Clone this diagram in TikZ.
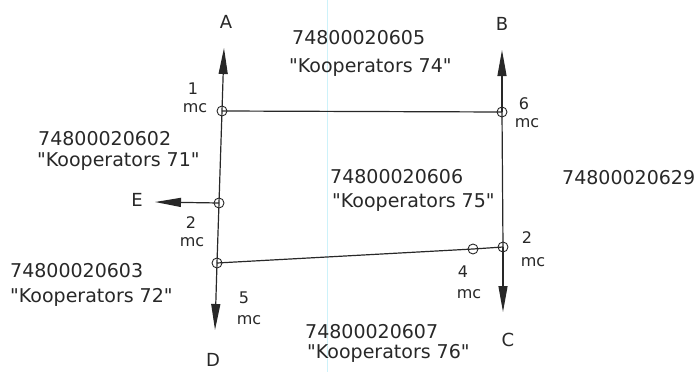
\documentclass[tikz,border=0pt]{standalone}
\usepackage{fontspec}
\newfontfamily\dvs{DejaVu Sans}
\usetikzlibrary{arrows.meta}
\definecolor{ink}{RGB}{40,40,40}
\definecolor{scanline}{RGB}{205,242,250}
\begin{document}
\begin{tikzpicture}[x=1pt,y=-1pt,
  big/.style={font=\dvs\fontsize{19}{22}\selectfont, text=ink, inner sep=0pt, anchor=base west},
  letter/.style={font=\dvs\fontsize{18}{20}\selectfont, text=ink, inner sep=0pt},
  lbl/.style={font=\dvs\fontsize{16}{18}\selectfont, text=ink, inner sep=0pt},
  stn/.style={circle, draw=ink, line width=0.9pt, minimum size=10pt, inner sep=0pt},
  seg/.style={draw=ink, line width=1.2pt},
  arr/.style={seg, -{Triangle[length=26pt,width=9pt]}}
]
\fill[white] (0,0) rectangle (694,372);
\useasboundingbox (0,0) rectangle (694,372);
% faint scan line
\coordinate (s1) at (327,0);
\coordinate (s2) at (327,372);
\draw[scanline, line width=0.8pt] (s1) -- (s2);

% survey points
\node[stn] (c1) at (222,111) {};
\node[stn] (c6) at (502,112) {};
\node[stn] (cE) at (219,203) {};
\node[stn] (c5) at (217,263) {};
\node[stn] (c4) at (473,249) {};
\node[stn] (c2) at (503,247) {};

% arrow tips
\coordinate (tA) at (224,48);
\coordinate (tB) at (502,50);
\coordinate (tD) at (215,330);
\coordinate (tC) at (503,312);
\coordinate (tE) at (155,202);

% boundary lines
\draw[seg] (c1.center) -- (c6.center);
\draw[seg] (c1.center) -- (cE.center) -- (c5.center);
\draw[seg] (c5.center) -- (c4.center) -- (c2.center);
\draw[seg] (c6.center) -- (c2.center);

% direction arrows
\draw[arr] (c1.center) -- (tA);
\draw[arr] (c6.center) -- (tB);
\draw[arr] (c5.center) -- (tD);
\draw[arr] (c2.center) -- (tC);
\draw[arr] (cE.center) -- (tE);

% direction letters
\node[letter] (lA) at (226,22) {A};
\node[letter] (lB) at (502,24) {B};
\node[letter] (lC) at (508,340) {C};
\node[letter] (lD) at (213,360) {D};
\node[letter] (lE) at (137,200) {E};

% point labels
\node[lbl] (n1) at (193,89) {1};
\node[lbl] (m1) at (195,108) {mc};
\node[lbl] (n6) at (524,104) {6};
\node[lbl] (m6) at (527,123) {mc};
\node[lbl] (n2l) at (191,223) {2};
\node[lbl] (m2l) at (192,242) {mc};
\node[lbl] (n5) at (244,298) {5};
\node[lbl] (m5) at (249,320) {mc};
\node[lbl] (n2r) at (527,238) {2};
\node[lbl] (m2r) at (533,262) {mc};
\node[lbl] (n4) at (463,272) {4};
\node[lbl] (m4) at (469,294) {mc};

% parcel labels
\node[big] (p74a) at (292,45) {74800020605};
\node[big] (p74b) at (289,72) {"Kooperators 74"};
\node[big] (p71a) at (38,145) {74800020602};
\node[big] (p71b) at (37,166) {"Kooperators 71"};
\node[big] (p72a) at (10,277) {74800020603};
\node[big] (p72b) at (10,302) {"Kooperators 72"};
\node[big] (p75a) at (330,183) {74800020606};
\node[big] (p75b) at (332,207) {"Kooperators 75"};
\node[big] (p76a) at (305,338) {74800020607};
\node[big] (p76b) at (307,358) {"Kooperators 76"};
\node[big] (p29) at (562,184) {74800020629};
\end{tikzpicture}
\end{document}
